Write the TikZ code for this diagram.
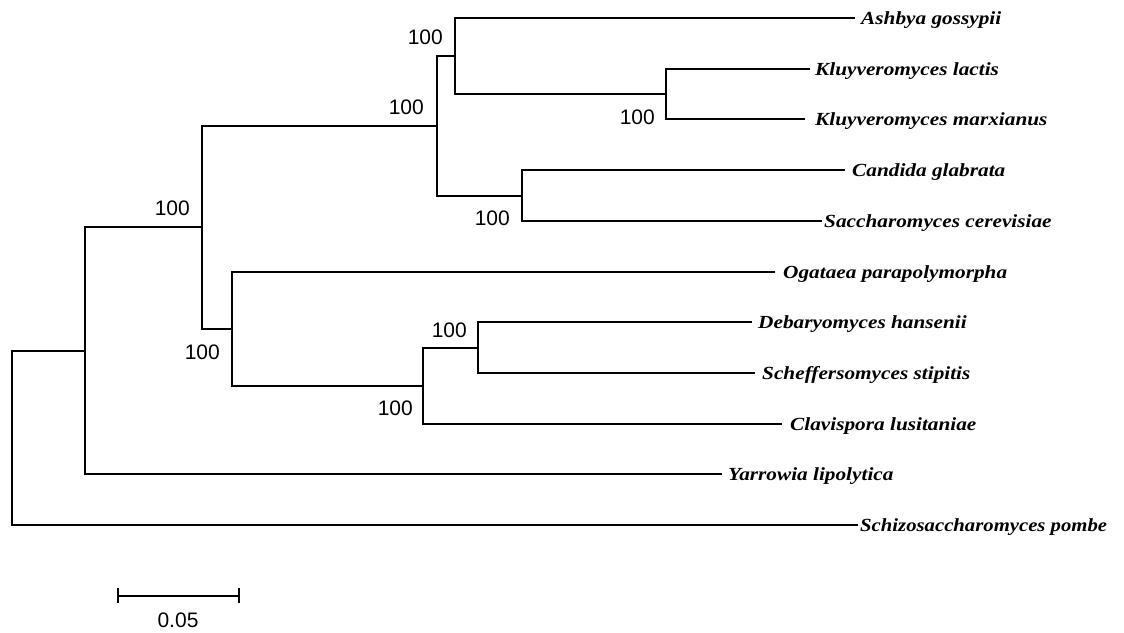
\documentclass[tikz,border=0pt]{standalone}
\usepackage{fontspec}
\setmainfont{Liberation Serif}
\newfontfamily\lsans{Liberation Sans}
\usepackage{graphicx}
\begin{document}
\begin{tikzpicture}[x=1pt,y=-1pt,
  branch/.style={draw=black,line width=2pt,line join=miter},
  taxon/.style={anchor=base west,inner sep=0pt,font=\fontsize{18.5}{21}\selectfont\bfseries\itshape},
  boot/.style={anchor=east,inner sep=0pt,font=\lsans\fontsize{21}{24}\selectfont},
  scalelabel/.style={anchor=center,inner sep=0pt,font=\lsans\fontsize{21}{24}\selectfont}]
\useasboundingbox (0,0) rectangle (1124,632);
% internal nodes
\coordinate (r) at (12,438);
\coordinate (n86) at (85,351);
\coordinate (n202) at (202,227);
\coordinate (n437) at (437,126);
\coordinate (n455) at (455,56);
\coordinate (n666) at (666,94);
\coordinate (n522) at (522,196);
\coordinate (n232) at (232,329);
\coordinate (n423) at (423,386);
\coordinate (n478) at (478,348);
% tips
\coordinate (tAg) at (855,18);
\coordinate (tKl) at (810,69);
\coordinate (tKm) at (805,119);
\coordinate (tCg) at (845,170);
\coordinate (tSc) at (822,221);
\coordinate (tOp) at (775,272);
\coordinate (tDh) at (752,322);
\coordinate (tSs) at (755,373);
\coordinate (tCl) at (782,424);
\coordinate (tYl) at (722,474);
\coordinate (tSp) at (858,525);
% branches
\draw[branch] (n86) -| (r) |- (tSp);
\draw[branch] (n202) -| (n86) |- (tYl);
\draw[branch] (n437) -| (n202) |- (n232);
\draw[branch] (n455) -| (n437) |- (n522);
\draw[branch] (tAg) -| (n455) |- (n666);
\draw[branch] (tKl) -| (n666) |- (tKm);
\draw[branch] (tCg) -| (n522) |- (tSc);
\draw[branch] (tOp) -| (n232) |- (n423);
\draw[branch] (n478) -| (n423) |- (tCl);
\draw[branch] (tDh) -| (n478) |- (tSs);
% taxon labels
\node[taxon] (Ag) at (861,24.8) {\scalebox{1.15}[1]{Ashbya gossypii}};
\node[taxon] (Kl) at (815,75.8) {\scalebox{1.15}[1]{Kluyveromyces lactis}};
\node[taxon] (Km) at (815,125.8) {\scalebox{1.15}[1]{Kluyveromyces marxianus}};
\node[taxon] (Cg) at (852,176.8) {\scalebox{1.15}[1]{Candida glabrata}};
\node[taxon] (Sc) at (824,227.8) {\scalebox{1.15}[1]{Saccharomyces cerevisiae}};
\node[taxon] (Op) at (783,278.8) {\scalebox{1.15}[1]{Ogataea parapolymorpha}};
\node[taxon] (Dh) at (758,328.8) {\scalebox{1.15}[1]{Debaryomyces hansenii}};
\node[taxon] (Ss) at (762,379.8) {\scalebox{1.15}[1]{Scheffersomyces stipitis}};
\node[taxon] (Cl) at (790,430.8) {\scalebox{1.15}[1]{Clavispora lusitaniae}};
\node[taxon] (Yl) at (728,480.8) {\scalebox{1.15}[1]{Yarrowia lipolytica}};
\node[taxon] (Sp) at (860,531.8) {\scalebox{1.12}[1]{Schizosaccharomyces pombe}};
% bootstrap values
\node[boot] (b455) at (443,37) {100};
\node[boot] (b437) at (424,107) {100};
\node[boot] (b666) at (655,117) {100};
\node[boot] (b522) at (510,218) {100};
\node[boot] (b202) at (190,208) {100};
\node[boot] (b232) at (220,352) {100};
\node[boot] (b478) at (467,330) {100};
\node[boot] (b423) at (413,408) {100};
% scale bar
\coordinate (sb1) at (118,596);
\coordinate (sb2) at (239,596);
\draw[branch] (sb1) -- (sb2);
\draw[branch] ([yshift=8pt]sb1) -- ([yshift=-7pt]sb1);
\draw[branch] ([yshift=8pt]sb2) -- ([yshift=-7pt]sb2);
\node[scalelabel] (sbl) at (178,620) {0.05};
\end{tikzpicture}
\end{document}
